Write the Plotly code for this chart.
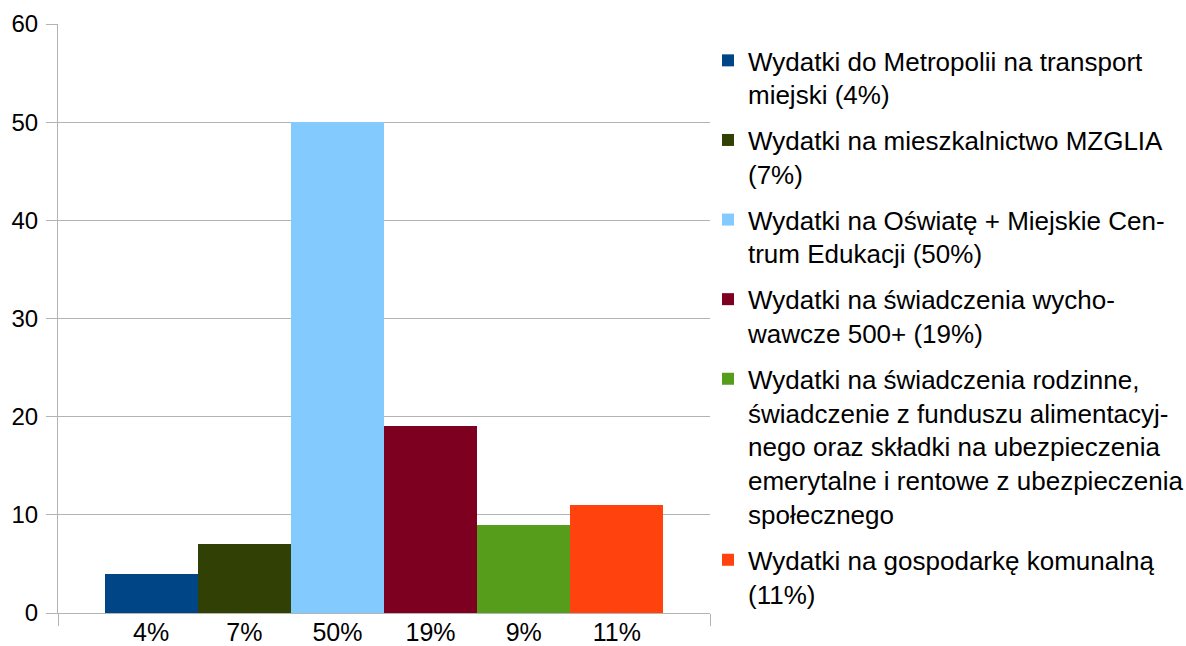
import plotly.graph_objects as go

categories = ["4%", "7%", "50%", "19%", "9%", "11%"]
values = [4, 7, 50, 19, 9, 11]
legend_names = [
    "Wydatki do Metropolii na transport<br>miejski (4%)",
    "Wydatki na mieszkalnictwo MZGLIA<br>(7%)",
    "Wydatki na Oświatę + Miejskie Cen-<br>trum Edukacji (50%)",
    "Wydatki na świadczenia wycho-<br>wawcze 500+ (19%)",
    "Wydatki na świadczenia rodzinne,<br>świadczenie z funduszu alimentacyj-<br>nego oraz składki na ubezpieczenia<br>emerytalne i rentowe z ubezpieczenia<br>społecznego",
    "Wydatki na gospodarkę komunalną<br>(11%)",
]
colors = ["#004586", "#314004", "#83CAFF", "#7E0021", "#579D1C", "#FF420E"]
y_ticks = [0, 10, 20, 30, 40, 50, 60]

FONT = "Liberation Sans, Arial, sans-serif"
GRID = "#b3b3b3"

fig = go.Figure()
fig.add_trace(go.Bar(
    x=categories, y=values, marker=dict(color=colors, line=dict(width=0)),
    showlegend=False, width=1.0, hoverinfo="skip",
))
for i, (name, c) in enumerate(zip(legend_names, colors)):
    fig.add_trace(go.Scatter(
        x=[None], y=[None], mode="markers", name=name,
        marker=dict(symbol="square", size=16, color=c, line=dict(width=0)),
        legendgroup=f"g{i}", showlegend=True,
    ))
# boundary ticks axis
fig.add_trace(go.Scatter(x=[None], y=[None], xaxis="x2", showlegend=False))

fig.update_layout(
    width=1186, height=646,
    margin=dict(l=58, r=476, t=24, b=33, autoexpand=False),
    paper_bgcolor="white", plot_bgcolor="white",
    font=dict(family=FONT, size=24, color="#000000"),
    bargap=0,
    barmode="overlay",
    xaxis=dict(
        type="category", range=[-1, 6], showgrid=False, zeroline=False,
        showline=True, linecolor=GRID, linewidth=1, ticks="",
        tickfont=dict(size=25), ticklabelstandoff=-3, automargin=False,
    ),
    xaxis2=dict(
        overlaying="x", type="linear", range=[-1, 6], tickvals=[-1, 6],
        ticks="outside", ticklen=12, tickcolor=GRID, tickwidth=1,
        showticklabels=False, showgrid=False, zeroline=False, showline=False,
        side="bottom", anchor="y", automargin=False,
    ),
    yaxis=dict(
        range=[0, 60], tickvals=y_ticks, showgrid=True, gridcolor=GRID,
        gridwidth=1, zeroline=False, showline=True, linecolor=GRID,
        linewidth=1, ticks="outside", ticklen=11, tickcolor=GRID,
        tickfont=dict(size=24), ticklabelstandoff=3, automargin=False,
    ),
    legend=dict(
        x=0.9969, xanchor="left", y=0.978, yanchor="top",
        font=dict(size=26), tracegroupgap=9, valign="top",
        traceorder="grouped", bgcolor="rgba(0,0,0,0)",
        itemsizing="constant",
    ),
)

fig.write_html(
    "out.html",
    config={"displayModeBar": False},
    post_script="document.body.style.margin='0';document.body.style.padding='0';",
)
